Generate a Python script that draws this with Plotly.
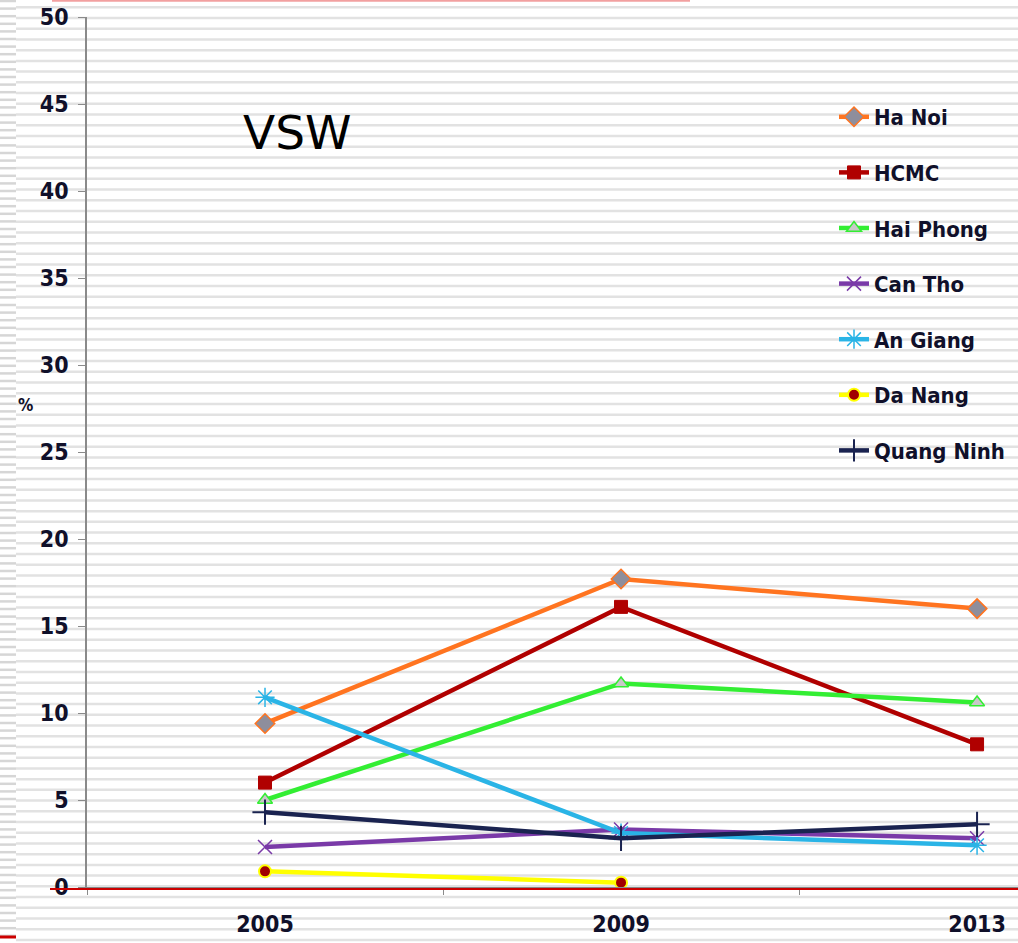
import plotly.graph_objects as go

# ---------------- data ----------------
years = ["2005", "2009", "2013"]
ha_noi = [9.4, 17.7, 16.0]
hcmc = [6.0, 16.1, 8.2]
hai_phong = [5.0, 11.7, 10.6]
can_tho = [2.3, 3.3, 2.8]
an_giang = [10.9, 3.1, 2.4]
da_nang = [0.9, 0.25, None]
quang_ninh = [4.3, 2.8, 3.6]

y_ticks = [0, 5, 10, 15, 20, 25, 30, 35, 40, 45, 50]

# ---------------- geometry ----------------
W, H = 1018, 943
L, R, T, B = 87, 1018, 17, 887
PW, PH = R - L, B - T


def px(x):
    return (x - L) / PW


def py(y):
    return (B - y) / PH


NARROW = "Liberation Sans Narrow, DejaVu Sans Condensed, Arial Narrow, sans-serif"
TXT = "#10102a"

fig = go.Figure()

series = [
    ("Ha Noi", ha_noi, "#ff7420", dict(symbol="diamond", size=15, color="#8e8e9c",
                                       line=dict(color="#ff7420", width=1.5))),
    ("HCMC", hcmc, "#b00000", dict(symbol="square", size=13, color="#b00000",
                                   line=dict(color="#b00000", width=1))),
    ("Hai Phong", hai_phong, "#33ee33", dict(symbol="triangle-up", size=13, color="#c8c8c8",
                                            line=dict(color="#33ee33", width=1.5))),
    ("Can Tho", can_tho, "#7a3aa8", dict(symbol="x-thin-open", size=14,
                                         line=dict(color="#7a3aa8", width=1.5))),
    ("An Giang", an_giang, "#2ab4e6", dict(symbol="asterisk-open", size=16,
                                           line=dict(color="#2ab4e6", width=1.5))),
    ("Da Nang", da_nang, "#ffff00", dict(symbol="circle", size=12, color="#a00000",
                                         line=dict(color="#ffff00", width=2))),
    ("Quang Ninh", quang_ninh, "#1a2350", dict(symbol="cross-thin-open", size=18,
                                               line=dict(color="#1a2350", width=2))),
]

for i, (name, vals, col, mk) in enumerate(series):
    fig.add_trace(go.Scatter(
        x=years, y=vals, name=name, mode="lines+markers",
        line=dict(color=col, width=4.5), marker=mk,
        legendgroup=f"g{i}", cliponaxis=False,
    ))

shapes = []
# background stripes (slide decoration)
k = 0
while True:
    yy = 7.3 + k * 10.72
    if yy > H:
        break
    shapes.append(dict(type="line", xref="paper", yref="paper", layer="below",
                       x0=px(16), x1=px(W), y0=py(yy), y1=py(yy),
                       line=dict(color="#e2e2e2", width=2.5)))
    k += 1
k = 0
while True:
    yy = 1.0 + k * 7.6
    if yy > H:
        break
    shapes.append(dict(type="line", xref="paper", yref="paper", layer="below",
                       x0=px(0), x1=px(16), y0=py(yy), y1=py(yy),
                       line=dict(color="#d6d6d6", width=2.5)))
    k += 1
# red decoration lines
shapes.append(dict(type="line", xref="paper", yref="paper", layer="above",
                   x0=px(50), x1=px(W), y0=py(889), y1=py(889),
                   line=dict(color="#cc0000", width=2)))
shapes.append(dict(type="line", xref="paper", yref="paper", layer="above",
                   x0=px(52), x1=px(690), y0=py(0.8), y1=py(0.8),
                   line=dict(color="#f2a0a0", width=2)))
shapes.append(dict(type="line", xref="paper", yref="paper", layer="above",
                   x0=px(0), x1=px(16), y0=py(937), y1=py(937),
                   line=dict(color="#cc0000", width=3)))

fig.update_layout(
    width=W, height=H,
    margin=dict(l=L, r=W - R, t=T, b=H - B, pad=0),
    paper_bgcolor="white",
    plot_bgcolor="rgba(0,0,0,0)",
    shapes=shapes,
    showlegend=True,
    legend=dict(
        x=px(834), y=py(96), xanchor="left", yanchor="top",
        bgcolor="rgba(0,0,0,0)", borderwidth=0,
        font=dict(family=NARROW, size=22, color=TXT, weight="bold"),
        tracegroupgap=24, itemwidth=30,
    ),
    xaxis=dict(
        type="category", categoryorder="array", categoryarray=years,
        range=[-0.5, 2.115], tickson="boundaries",
        showgrid=False, zeroline=False,
        showline=True, linecolor="#8a8a8a", linewidth=1.5,
        ticks="outside", ticklen=6, tickcolor="#8a8a8a", tickwidth=1,
        tickfont=dict(family=NARROW, size=23, color=TXT, weight="bold"),
        ticklabelstandoff=16,
        fixedrange=True,
    ),
    yaxis=dict(
        range=[0, 50], tickvals=y_ticks, ticktext=[str(v) for v in y_ticks],
        showgrid=False, zeroline=False,
        showline=True, linecolor="#8a8a8a", linewidth=1.5,
        ticks="outside", ticklen=7, tickcolor="#8a8a8a", tickwidth=1,
        tickfont=dict(family=NARROW, size=23, color=TXT, weight="bold"),
        ticklabelstandoff=5,
        fixedrange=True,
    ),
    annotations=[
        dict(text="VSW", xref="paper", yref="paper", x=px(241), y=py(133),
             xanchor="left", yanchor="middle", showarrow=False,
             font=dict(family="DejaVu Sans, Verdana, sans-serif", size=47, color="#000000")),
        dict(text="%", xref="paper", yref="paper", x=px(26), y=py(405),
             xanchor="center", yanchor="middle", showarrow=False,
             font=dict(family=NARROW, size=17, color=TXT, weight="bold")),
    ],
)

fig.write_html("out.html", config={"displayModeBar": False},
               post_script="document.body.style.margin='0';")
